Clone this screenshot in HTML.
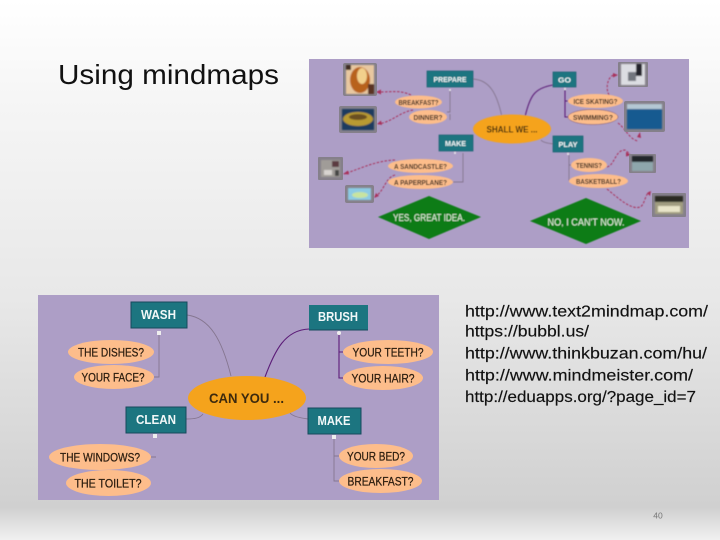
<!DOCTYPE html>
<html><head><meta charset="utf-8"><style>
html,body{margin:0;padding:0;width:720px;height:540px;overflow:hidden}
svg{display:block}
text{font-family:"Liberation Sans",sans-serif}
.b{fill:#1d7480;stroke:#17626f;stroke-width:.7}
.e{fill:#fdbd8b}
.c{fill:#f5a31c}
.d{fill:#0a7c14}
.s{font-weight:bold;fill:#2e2118;text-anchor:middle}
.w{font-weight:bold;fill:#eef6f6;text-anchor:middle}
.g{fill:none;stroke:#857690;stroke-width:.9}
.p{fill:none;stroke:#5c1f78;stroke-width:1.1}
.r{fill:none;stroke:#a8325c;stroke-width:1;stroke-dasharray:2.5 1.5}
.a{fill:#a8325c}
.i{fill:#85808a}
.l{font-size:16px;fill:#111;stroke:#111;stroke-width:.15}
</style></head><body>
<svg width="720" height="540" viewBox="0 0 720 540" xmlns="http://www.w3.org/2000/svg">
<defs>
<linearGradient id="bg" x1="0" y1="0" x2="0" y2="1">
<stop offset="0" stop-color="#ffffff"/>
<stop offset=".2" stop-color="#f5f5f5"/>
<stop offset=".55" stop-color="#e8e8e8"/>
<stop offset=".94" stop-color="#d0d0d0"/>
<stop offset="1" stop-color="#f0f0f0"/>
</linearGradient>
<filter id="f1" x="-2%" y="-2%" width="104%" height="104%"><feGaussianBlur stdDeviation=".4"/></filter>
<filter id="f2" x="-2%" y="-2%" width="104%" height="104%"><feGaussianBlur stdDeviation=".3"/></filter>
<filter id="f3" x="-5%" y="-5%" width="110%" height="110%"><feGaussianBlur stdDeviation=".7"/></filter>
</defs>
<rect width="720" height="540" fill="url(#bg)"/>
<text x="58" y="84" font-size="28" fill="#111" textLength="221" lengthAdjust="spacingAndGlyphs">Using mindmaps</text>

<rect x="309" y="59" width="380" height="189" fill="#ad9ec6"/>
<g filter="url(#f1)">
<path class="g" d="M473 79C490 80 497 94 502 117M450 90V112H447M450 114V120M439 143C445 143 450 142 456 138M463 153V182H453M583 145C575 144 545 146 541 140M569 155V181M569 165H571"/>
<path class="p" d="M553 85C535 88 530 95 525 117M565 90V117H568M565 101H568"/>
<path class="r" d="M411 95C400 90 395 92 378 92M413 110C400 112 392 122 378 124M395 160C375 161 362 168 344 174M395 175C385 178 385 190 375 197M609 95C605 88 608 76 614 75M618 123C625 128 630 140 638 141M607 167C615 165 615 150 625 150L630 154M607 189C620 200 632 210 640 207C645 205 645 193 650 192"/>
<path class="a" d="M376 92l5-2.500v5zM377 124l4-3.500 1 4.500zM343 174l5-3.500 1 4zM374 198l2-5 3 3zM618 75l-5-2v4.500zM640 132l-3 5 4 1zM631 155l-5-3v4.500zM651 191l-4 2 3 3z"/>
<ellipse class="c" cx="512" cy="129" rx="39" ry="14.500"/>
<rect class="b" x="427" y="71" width="46" height="16"/>
<rect class="b" x="553" y="72" width="23" height="15"/>
<rect class="b" x="439" y="135" width="34" height="16"/>
<rect class="b" x="553" y="136" width="30" height="16"/>
<circle cx="450" cy="90" r="1" fill="#eee"/><circle cx="565" cy="89" r="1" fill="#eee"/><circle cx="455" cy="153" r="1" fill="#eee"/><circle cx="568" cy="154" r="1" fill="#eee"/>
<ellipse class="e" cx="418.500" cy="102" rx="23.500" ry="6.500"/>
<ellipse class="e" cx="428" cy="117" rx="19" ry="7"/>
<ellipse class="e" cx="420.500" cy="166" rx="32.500" ry="7"/>
<ellipse class="e" cx="420.500" cy="182" rx="32.500" ry="7"/>
<ellipse class="e" cx="595.500" cy="101" rx="27.500" ry="7"/>
<ellipse class="e" cx="593" cy="117" rx="25" ry="7.500" stroke="#7a4a6a" stroke-width=".5"/>
<ellipse class="e" cx="589" cy="165" rx="18" ry="7"/>
<ellipse class="e" cx="598.500" cy="181" rx="29.500" ry="7"/>
<polygon class="d" points="378,217 429,196 481,217 429,239"/>
<polygon class="d" points="530,221 586,198 641,221 586,244"/>
<g font-size="7.600">
<text class="w" x="450" y="82" textLength="33" lengthAdjust="spacingAndGlyphs">PREPARE</text>
<text class="w" x="564.500" y="82.500" textLength="13" lengthAdjust="spacingAndGlyphs">GO</text>
<text class="w" x="455.500" y="146" textLength="21" lengthAdjust="spacingAndGlyphs">MAKE</text>
<text class="w" x="568" y="147" textLength="19" lengthAdjust="spacingAndGlyphs">PLAY</text>
<text class="s" x="418.500" y="104.800" textLength="40" lengthAdjust="spacingAndGlyphs">BREAKFAST?</text>
<text class="s" x="428" y="119.800" textLength="29" lengthAdjust="spacingAndGlyphs">DINNER?</text>
<text class="s" x="420.500" y="168.800" textLength="53" lengthAdjust="spacingAndGlyphs">A SANDCASTLE?</text>
<text class="s" x="420.500" y="184.800" textLength="53" lengthAdjust="spacingAndGlyphs">A PAPERPLANE?</text>
<text class="s" x="595.500" y="103.800" textLength="44" lengthAdjust="spacingAndGlyphs">ICE SKATING?</text>
<text class="s" x="593" y="119.800" textLength="40" lengthAdjust="spacingAndGlyphs">SWIMMING?</text>
<text class="s" x="589" y="167.800" textLength="26" lengthAdjust="spacingAndGlyphs">TENNIS?</text>
<text class="s" x="598.500" y="183.800" textLength="45" lengthAdjust="spacingAndGlyphs">BASKETBALL?</text>
</g>
<text x="512" y="132.500" font-size="9" font-weight="bold" fill="#3a2a10" text-anchor="middle" textLength="51" lengthAdjust="spacingAndGlyphs">SHALL WE ...</text>
<text x="429" y="221" font-size="10" fill="#e6f2e0" text-anchor="middle" textLength="72" lengthAdjust="spacingAndGlyphs">YES, GREAT IDEA.</text>
<text x="586" y="225.500" font-size="10" fill="#e6f2e0" text-anchor="middle" textLength="77" lengthAdjust="spacingAndGlyphs">NO, I CAN'T NOW.</text>
</g>
<rect class="i" x="343" y="63" width="34" height="33" rx="2"/>
<rect class="i" x="339" y="106" width="38" height="27" rx="2"/>
<rect class="i" x="318" y="157" width="25" height="23" rx="1"/>
<rect class="i" x="345" y="185" width="29" height="18" rx="2"/>
<rect class="i" x="618" y="62" width="30" height="25" rx="1"/>
<rect class="i" x="624" y="101" width="41" height="31" rx="2"/>
<rect class="i" x="629" y="154" width="27" height="19" rx="1"/>
<rect class="i" x="652" y="193" width="34" height="24" rx="1"/>
<g filter="url(#f3)">
<rect x="346" y="65" width="28" height="29" fill="#e8c8a0"/><ellipse cx="360" cy="80" rx="10" ry="13" fill="#b8621e"/><ellipse cx="362" cy="76" rx="5" ry="8" fill="#f2d08c"/><rect x="346" y="65" width="5" height="5" fill="#3c2a20"/><rect x="368" y="84" width="6" height="10" fill="#5a3020"/>
<rect x="342" y="109" width="32" height="21" fill="#1c3a5e"/><ellipse cx="358" cy="119" rx="15" ry="7" fill="#b89a30"/><ellipse cx="358" cy="117" rx="9" ry="3" fill="#6a5020"/>
<rect x="321" y="160" width="19" height="17" fill="#a09c98"/><rect x="332" y="161" width="7" height="6" fill="#5c3a40"/><rect x="324" y="170" width="8" height="5" fill="#d8d4d0"/><rect x="335" y="170" width="4" height="6" fill="#444"/>
<rect x="348" y="188" width="23" height="12" fill="#8ccbe4"/><ellipse cx="360" cy="195" rx="8" ry="3" fill="#c8e4a0"/>
<rect x="621" y="64" width="24" height="21" fill="#dcdde2"/><rect x="636" y="64" width="6" height="12" fill="#20242c"/><rect x="628" y="72" width="8" height="9" fill="#72767e"/>
<rect x="627" y="104" width="35" height="25" fill="#155a90"/><rect x="627" y="104" width="35" height="5" fill="#b4c8d4"/>
<rect x="632" y="156" width="21" height="15" fill="#8ea6ac"/><rect x="632" y="156" width="21" height="6" fill="#22282c"/>
<rect x="655" y="196" width="28" height="18" fill="#a09c80"/><rect x="655" y="196" width="28" height="6" fill="#2c2a24"/><rect x="658" y="206" width="22" height="6" fill="#e8e4c8"/>
</g>

<rect x="38" y="295" width="401" height="205" fill="#ad9ec6"/>
<g filter="url(#f2)">
<path class="g" d="M187 315C210 318 222 340 231 376M159 334V377H154M186 419C195 419 200 418 203 414M151 457H156M334 437V481H339M334 456H339M334 420C322 420 296 420 290 413"/>
<path class="p" stroke-width="1.300" d="M309 329C285 330 275 350 265 377M339 334V378H343M339 352H343"/>
<ellipse class="c" cx="247" cy="398" rx="59" ry="22"/>
<rect x="131" y="302" width="56" height="26" fill="#1d7480" stroke="#124a5c" stroke-width="1"/>
<rect x="309" y="305" width="59" height="25" fill="#1d7480"/><path d="M309 330H368" stroke="#124a5c" stroke-width="1"/>
<rect x="126" y="407" width="60" height="26" fill="#1d7480" stroke="#124a5c" stroke-width="1"/>
<rect x="308" y="408" width="53" height="26" fill="#1d7480" stroke="#124a5c" stroke-width="1"/>
<rect x="157" y="331" width="4" height="4" fill="#eee"/><circle cx="339" cy="333" r="2" fill="#eee"/><rect x="153" y="434" width="4" height="4" fill="#eee"/><rect x="332" y="435" width="4" height="4" fill="#eee"/>
<ellipse class="e" cx="111" cy="352" rx="43" ry="12"/>
<ellipse class="e" cx="114" cy="377" rx="40" ry="12"/>
<ellipse class="e" cx="100" cy="457" rx="51" ry="13"/>
<ellipse class="e" cx="108.500" cy="483" rx="42.500" ry="13"/>
<ellipse class="e" cx="388" cy="352" rx="45" ry="12"/>
<ellipse class="e" cx="383" cy="378" rx="40" ry="12"/>
<ellipse class="e" cx="376" cy="456" rx="37" ry="12"/>
<ellipse class="e" cx="380.500" cy="481" rx="41.500" ry="12"/>
<g font-size="13" font-weight="bold" fill="#f2f8f8" text-anchor="middle">
<text x="158.500" y="319" textLength="35" lengthAdjust="spacingAndGlyphs">WASH</text>
<text x="338" y="321" textLength="40" lengthAdjust="spacingAndGlyphs">BRUSH</text>
<text x="156" y="424" textLength="40" lengthAdjust="spacingAndGlyphs">CLEAN</text>
<text x="334" y="425" textLength="33" lengthAdjust="spacingAndGlyphs">MAKE</text>
</g>
<g font-size="12" fill="#2a1c10" stroke="#2a1c10" stroke-width=".25" text-anchor="middle">
<text x="111" y="356.500" textLength="66" lengthAdjust="spacingAndGlyphs">THE DISHES?</text>
<text x="113" y="381.500" textLength="63" lengthAdjust="spacingAndGlyphs">YOUR FACE?</text>
<text x="100" y="461.500" textLength="80" lengthAdjust="spacingAndGlyphs">THE WINDOWS?</text>
<text x="108" y="487.500" textLength="67" lengthAdjust="spacingAndGlyphs">THE TOILET?</text>
<text x="388" y="356.500" textLength="71" lengthAdjust="spacingAndGlyphs">YOUR TEETH?</text>
<text x="383" y="382.500" textLength="63" lengthAdjust="spacingAndGlyphs">YOUR HAIR?</text>
<text x="376" y="460.500" textLength="58" lengthAdjust="spacingAndGlyphs">YOUR BED?</text>
<text x="380.500" y="485.500" textLength="66" lengthAdjust="spacingAndGlyphs">BREAKFAST?</text>
</g>
<text x="246.500" y="403" font-size="14" font-weight="bold" fill="#3e2a10" text-anchor="middle" textLength="75" lengthAdjust="spacingAndGlyphs">CAN YOU ...</text>
</g>

<text class="l" x="465" y="316.500" textLength="243" lengthAdjust="spacingAndGlyphs">http://www.text2mindmap.com/</text>
<text class="l" x="465" y="336.500" textLength="124" lengthAdjust="spacingAndGlyphs">https://bubbl.us/</text>
<text class="l" x="465" y="358.500" textLength="242" lengthAdjust="spacingAndGlyphs">http://www.thinkbuzan.com/hu/</text>
<text class="l" x="465" y="380.500" textLength="228" lengthAdjust="spacingAndGlyphs">http://www.mindmeister.com/</text>
<text class="l" x="465" y="402" textLength="231" lengthAdjust="spacingAndGlyphs">http://eduapps.org/?page_id=7</text>
<text x="658" y="518.500" font-size="8.500" fill="#777" text-anchor="middle">40</text>
</svg>
</body></html>
